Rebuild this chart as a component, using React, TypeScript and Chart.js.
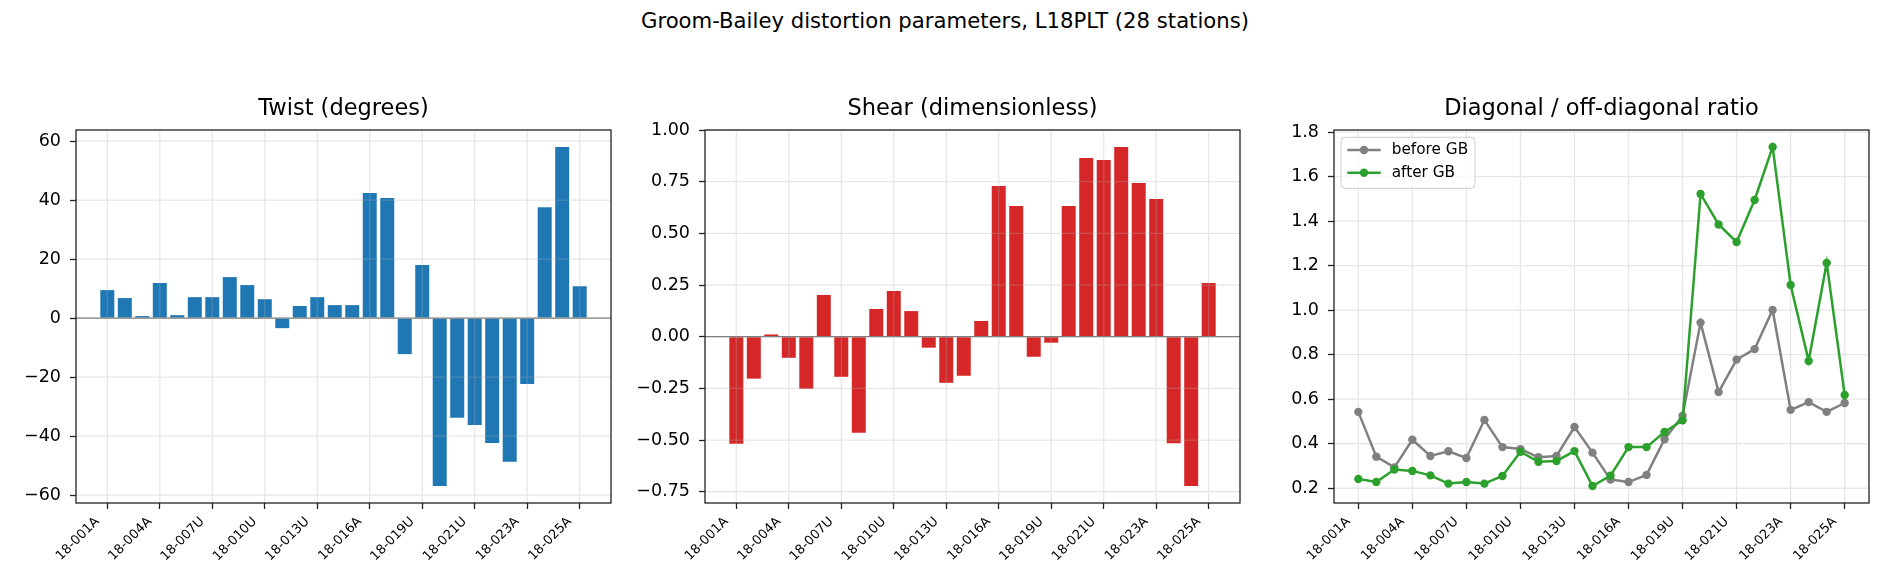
import React, { useEffect, useRef } from "react";
import { Chart, registerables } from "chart.js";

Chart.register(...registerables);

// ---------------- data ----------------
const stations = [
  "18-001A", "18-002A", "18-003A", "18-004A", "18-005A", "18-006U", "18-007U",
  "18-008U", "18-009U", "18-010U", "18-011U", "18-012A", "18-013U", "18-014A",
  "18-015A", "18-016A", "18-017A", "18-018U", "18-019U", "18-020A", "18-020U",
  "18-021U", "18-022A", "18-022U", "18-023A", "18-024A", "18-024U", "18-025A",
];
const xTickIndex = [0, 3, 6, 9, 12, 15, 18, 21, 24, 27];

const twist = [
  9.5, 6.8, 0.7, 11.9, 1.0, 7.1, 7.1, 13.9, 11.2, 6.4, -3.4, 4.1, 7.1, 4.4,
  4.4, 42.4, 40.7, -12.2, 18.0, -56.9, -33.8, -36.2, -42.3, -48.7, -22.3, 37.6, 58.0, 10.8,
];
const shear = [
  -0.518, -0.203, 0.011, -0.102, -0.252, 0.202, -0.194, -0.465, 0.134, 0.221,
  0.124, -0.053, -0.223, -0.189, 0.076, 0.729, 0.632, -0.097, -0.029, 0.632,
  0.865, 0.855, 0.918, 0.744, 0.666, -0.516, -0.7225, 0.26,
];
const ratioBefore = [
  0.543, 0.342, 0.294, 0.418, 0.345, 0.366, 0.336, 0.507, 0.385, 0.376,
  0.339, 0.345, 0.475, 0.36, 0.239, 0.228, 0.26, 0.42, 0.526, 0.944,
  0.632, 0.778, 0.825, 1.001, 0.552, 0.587, 0.543, 0.583,
];
const ratioAfter = [
  0.242, 0.228, 0.284, 0.278, 0.258, 0.221, 0.228, 0.221, 0.255, 0.364,
  0.319, 0.322, 0.367, 0.21, 0.257, 0.385, 0.385, 0.453, 0.505, 1.522,
  1.385, 1.306, 1.495, 1.733, 1.113, 0.772, 1.212, 0.619,
];

const twistTicks = [-60, -40, -20, 0, 20, 40, 60];
const shearTicks = [-0.75, -0.5, -0.25, 0, 0.25, 0.5, 0.75, 1.0];
const ratioTicks = [0.2, 0.4, 0.6, 0.8, 1.0, 1.2, 1.4, 1.6, 1.8];

const suptitle = "Groom-Bailey distortion parameters, L18PLT (28 stations)";
const panelTitles = ["Twist (degrees)", "Shear (dimensionless)", "Diagonal / off-diagonal ratio"];
const legendLabels = ["before GB", "after GB"];

// ---------------- style / layout ----------------
const FONT = "'DejaVu Sans', 'Liberation Sans', sans-serif";
const BLUE = "#1f77b4";
const RED = "#d62728";
const GRAY = "#808080";
const GREEN = "#2ca02c";
const GRID = "rgba(176,176,176,0.3)";
const SPINE = "#222222";

const FIG_W = 1890;
const FIG_H = 588;
const PLOT_W = 535;
const Y_AXIS_W = 76;
const RIGHT_PAD = 8;
const TOP = 130;
const X_AXIS_H = 85;
const CANVAS_W = Y_AXIS_W + PLOT_W + RIGHT_PAD;
const plotLefts = [76, 705, 1334];

const minus = (s: string) => s.replace("-", "\u2212");

function barLimits(n: number) {
  const lo = -0.4, hi = n - 1 + 0.4;
  const m = 0.05 * (hi - lo);
  return [lo - m, hi + m];
}
function lineLimits(n: number) {
  const m = 0.05 * (n - 1);
  return [-m, n - 1 + m];
}
function valueLimits(arrs: number[][], includeZero: boolean) {
  let lo = Infinity, hi = -Infinity;
  arrs.forEach((a) => a.forEach((v) => { lo = Math.min(lo, v); hi = Math.max(hi, v); }));
  if (includeZero) { lo = Math.min(lo, 0); hi = Math.max(hi, 0); }
  const m = 0.05 * (hi - lo);
  return [lo - m, hi + m];
}

const tickGrid = {
  display: true,
  drawOnChartArea: false,
  drawTicks: true,
  tickLength: 6,
  tickWidth: 1.3,
  tickColor: SPINE,
  offset: false,
};

function xScale(min: number, max: number) {
  return {
    type: "linear",
    min,
    max,
    offset: false,
    grid: tickGrid,
    border: { display: false },
    afterBuildTicks: (s: any) => { s.ticks = xTickIndex.map((v) => ({ value: v })); },
    afterFit: (s: any) => { s.height = X_AXIS_H; },
    ticks: {
      autoSkip: false,
      minRotation: 45,
      maxRotation: 45,
      padding: 5,
      labelOffset: -10,
      color: "#000",
      font: { size: 13, family: FONT },
      callback: (v: any) => stations[v] ?? "",
    },
  };
}

function yScale(min: number, max: number, ticks: number[], fmt: (v: number) => string) {
  return {
    type: "linear",
    min,
    max,
    grid: tickGrid,
    border: { display: false },
    afterBuildTicks: (s: any) => { s.ticks = ticks.map((v) => ({ value: v })); },
    afterFit: (s: any) => { s.width = Y_AXIS_W; },
    ticks: {
      padding: 9,
      color: "#000",
      font: { size: 17.5, family: FONT },
      callback: (v: any) => fmt(Number(v)),
    },
  };
}

function drawGrid(chart: any) {
  const { ctx, chartArea: a, scales } = chart;
  ctx.save();
  ctx.strokeStyle = GRID;
  ctx.lineWidth = 1.3;
  ctx.beginPath();
  scales.x.ticks.forEach((t: any) => {
    const p = scales.x.getPixelForValue(t.value);
    ctx.moveTo(p, a.top);
    ctx.lineTo(p, a.bottom);
  });
  scales.y.ticks.forEach((t: any) => {
    const p = scales.y.getPixelForValue(t.value);
    ctx.moveTo(a.left, p);
    ctx.lineTo(a.right, p);
  });
  ctx.stroke();
  ctx.restore();
}

const panelPlugin = {
  id: "panel",
  beforeDatasetsDraw(chart: any, _a: any, opts: any) {
    if (!opts.gridOnTop) drawGrid(chart);
  },
  afterDatasetsDraw(chart: any, _a: any, opts: any) {
    const { ctx, chartArea: a, scales } = chart;
    if (opts.gridOnTop) drawGrid(chart);
    if (opts.zeroLine) {
      const p = scales.y.getPixelForValue(0);
      ctx.save();
      ctx.strokeStyle = GRAY;
      ctx.lineWidth = 1.2;
      ctx.beginPath();
      ctx.moveTo(a.left, p);
      ctx.lineTo(a.right, p);
      ctx.stroke();
      ctx.restore();
    }
  },
  afterDraw(chart: any, _a: any, opts: any) {
    const { ctx, chartArea: a } = chart;
    ctx.save();
    ctx.strokeStyle = SPINE;
    ctx.lineWidth = 1.3;
    ctx.strokeRect(a.left, a.top, a.right - a.left, a.bottom - a.top);
    ctx.fillStyle = "#000";
    ctx.font = `22.5px ${FONT}`;
    ctx.textAlign = "center";
    ctx.textBaseline = "middle";
    ctx.fillText(opts.title, (a.left + a.right) / 2, a.top - 20.5);
    if (opts.legend) {
      const bx = a.left + 7, by = a.top + 7.3, bw = 134, bh = 51, r = 4;
      ctx.beginPath();
      ctx.moveTo(bx + r, by);
      ctx.arcTo(bx + bw, by, bx + bw, by + bh, r);
      ctx.arcTo(bx + bw, by + bh, bx, by + bh, r);
      ctx.arcTo(bx, by + bh, bx, by, r);
      ctx.arcTo(bx, by, bx + bw, by, r);
      ctx.closePath();
      ctx.fillStyle = "rgba(255,255,255,0.8)";
      ctx.fill();
      ctx.strokeStyle = "#cccccc";
      ctx.lineWidth = 1;
      ctx.stroke();
      opts.legend.forEach((it: any, i: number) => {
        const y = a.top + 20 + i * 22.7;
        ctx.strokeStyle = it.color;
        ctx.lineWidth = 2.5;
        ctx.beginPath();
        ctx.moveTo(a.left + 13.3, y);
        ctx.lineTo(a.left + 46.7, y);
        ctx.stroke();
        ctx.fillStyle = it.color;
        ctx.beginPath();
        ctx.arc(a.left + 30, y, 4.2, 0, Math.PI * 2);
        ctx.fill();
        ctx.fillStyle = "#000";
        ctx.font = `15.3px ${FONT}`;
        ctx.textAlign = "left";
        ctx.textBaseline = "middle";
        ctx.fillText(it.label, a.left + 57.7, y);
      });
    }
    ctx.restore();
  },
};

function baseOptions(xs: any, ys: any, panel: any) {
  return {
    animation: false,
    responsive: false,
    maintainAspectRatio: false,
    layout: { padding: { top: TOP, right: RIGHT_PAD, bottom: 0, left: 0 } },
    scales: { x: xs, y: ys },
    plugins: {
      legend: { display: false },
      tooltip: { enabled: false },
      title: { display: false },
      panel,
    },
    events: [],
  };
}

function twistConfig(): any {
  const [x0, x1] = barLimits(twist.length);
  const [y0, y1] = valueLimits([twist], true);
  return {
    type: "bar",
    data: {
      datasets: [{
        data: twist.map((v, i) => ({ x: i, y: v })),
        backgroundColor: BLUE,
        borderWidth: 0,
        barPercentage: 0.8,
        categoryPercentage: 1,
      }],
    },
    options: baseOptions(
      xScale(x0, x1),
      yScale(y0, y1, twistTicks, (v) => minus(String(Math.round(v)))),
      { title: panelTitles[0], gridOnTop: true, zeroLine: true },
    ),
    plugins: [panelPlugin],
  };
}

function shearConfig(): any {
  const [x0, x1] = barLimits(shear.length);
  const [y0, y1] = valueLimits([shear], true);
  return {
    type: "bar",
    data: {
      datasets: [{
        data: shear.map((v, i) => ({ x: i, y: v })),
        backgroundColor: RED,
        borderWidth: 0,
        barPercentage: 0.8,
        categoryPercentage: 1,
      }],
    },
    options: baseOptions(
      xScale(x0, x1),
      yScale(y0, y1, shearTicks, (v) => minus(v.toFixed(2))),
      { title: panelTitles[1], gridOnTop: true, zeroLine: true },
    ),
    plugins: [panelPlugin],
  };
}

function ratioConfig(): any {
  const [x0, x1] = lineLimits(ratioBefore.length);
  const [y0, y1] = valueLimits([ratioBefore, ratioAfter], false);
  const ds = (vals: number[], color: string, order: number) => ({
    data: vals.map((v, i) => ({ x: i, y: v })),
    borderColor: color,
    backgroundColor: color,
    pointBackgroundColor: color,
    pointBorderWidth: 0,
    pointRadius: 4.2,
    borderWidth: 2.5,
    tension: 0,
    fill: false,
    order,
  });
  return {
    type: "line",
    data: {
      datasets: [ds(ratioBefore, GRAY, 1), ds(ratioAfter, GREEN, 0)],
    },
    options: baseOptions(
      xScale(x0, x1),
      yScale(y0, y1, ratioTicks, (v) => v.toFixed(1)),
      {
        title: panelTitles[2],
        gridOnTop: false,
        zeroLine: false,
        legend: [
          { label: legendLabels[0], color: GRAY },
          { label: legendLabels[1], color: GREEN },
        ],
      },
    ),
    plugins: [panelPlugin],
  };
}

function Panel({ left, build }: { left: number; build: () => any }) {
  const ref = useRef<HTMLCanvasElement | null>(null);
  useEffect(() => {
    if (!ref.current) return;
    const chart = new Chart(ref.current, build());
    return () => chart.destroy();
  }, []);
  return (
    <canvas
      ref={ref}
      width={CANVAS_W}
      height={FIG_H}
      style={{ position: "absolute", left, top: 0, width: CANVAS_W, height: FIG_H }}
    />
  );
}

export default function App() {
  return (
    <div
      style={{
        position: "absolute",
        left: 0,
        top: 0,
        width: FIG_W,
        height: FIG_H,
        background: "#fff",
        overflow: "hidden",
      }}
    >
      <div
        style={{
          position: "absolute",
          left: 0,
          top: 8,
          width: FIG_W,
          textAlign: "center",
          fontFamily: FONT,
          fontSize: 21.2,
          lineHeight: "26px",
          color: "#000",
        }}
      >
        {suptitle}
      </div>
      <Panel left={plotLefts[0] - Y_AXIS_W} build={twistConfig} />
      <Panel left={plotLefts[1] - Y_AXIS_W} build={shearConfig} />
      <Panel left={plotLefts[2] - Y_AXIS_W} build={ratioConfig} />
    </div>
  );
}
